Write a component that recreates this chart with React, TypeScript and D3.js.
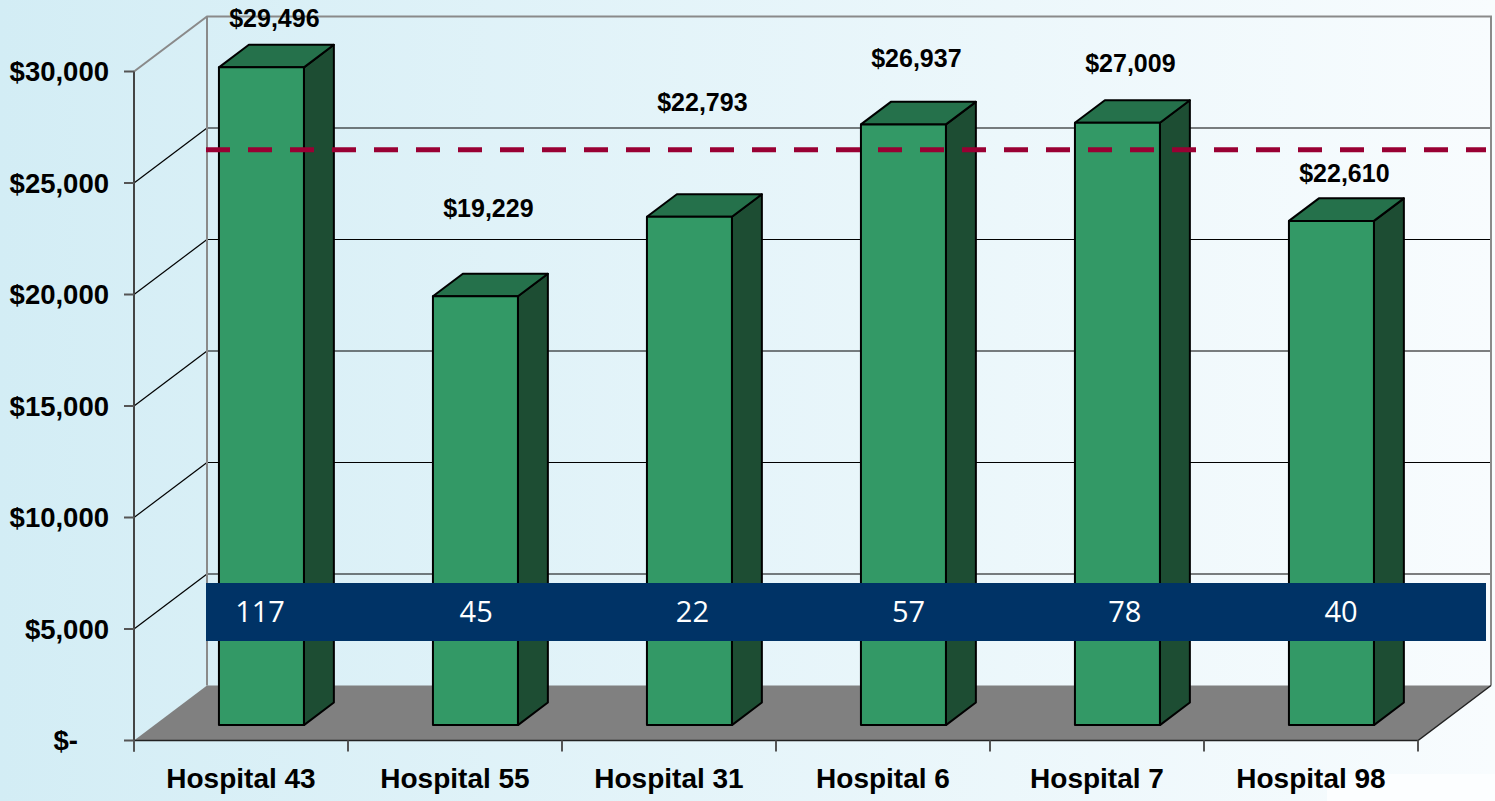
import React from "react";
import * as d3 from "d3";

// ---- data ----
const categories = ["Hospital 43", "Hospital 55", "Hospital 31", "Hospital 6", "Hospital 7", "Hospital 98"];
const costs = [29496, 19229, 22793, 26937, 27009, 22610];
const counts = [117, 45, 22, 57, 78, 40];
const yTicks = [0, 5000, 10000, 15000, 20000, 25000, 30000];
const yTickLabels = ["$-", "$5,000", "$10,000", "$15,000", "$20,000", "$25,000", "$30,000"];
const benchmark = 25800;
// label lift above bar tops (layout, px)
const labelLift = [49, 88, 115, 66, 60, 48];

// ---- layout ----
const W = 1495, H = 801;
const X0 = 134, X1 = 1418, Y0 = 740.5;
const DX = 73, DY = -55;
const PLOT_H = 669;
const F0 = 0.28, F1 = 0.69;
const BAR_FRAC = 85 / 214;
const BAND_LEFT = X0 + DX - 1, BAND_RIGHT = 1486;
const BAND_TOP = 583, BAND_BOTTOM = 641;

const fmt = (v: number) => "$" + d3.format(",")(v);

export default function App() {
  const x = d3.scaleBand<string>().domain(categories).range([X0, X1]).paddingInner(0).paddingOuter(0);
  const h = d3.scaleLinear().domain([0, 30000]).range([0, PLOT_H]);
  const countX = d3.scalePoint<string>().domain(categories).range([260, 1341]);
  const bw = x.bandwidth();
  const barW = bw * BAR_FRAC;
  const pt = (xf: number, v: number, f: number): [number, number] => [xf + f * DX, Y0 - h(v) + f * DY];
  const poly = (pts: [number, number][]) => pts.map((p) => p.join(",")).join(" ");
  const line = d3.line();

  const bench = pt(0, benchmark, F0)[1];

  return (
    <svg width={W} height={H} style={{ position: "absolute", left: 0, top: 0, display: "block" }}
      fontFamily="'Liberation Sans', Arial, sans-serif">
      <defs>
        <linearGradient id="bg" x1="0" x2="1" y1="0" y2="0">
          <stop offset="0" stopColor="#d3edf5" />
          <stop offset="1" stopColor="#f8fcfe" />
        </linearGradient>
      </defs>
      <rect x={0} y={0} width={W} height={H} fill="url(#bg)" />
      <rect x={1327} y={774} width={W - 1327} height={H - 774} fill="#fcfeff" />

      {/* back wall gridlines */}
      {yTicks.slice(1, -1).map((t) => {
        const [bx, by] = pt(X0, t, 1);
        const [ex] = pt(X1, t, 1);
        const [fx, fy] = pt(X0, t, 0);
        return (
          <g key={t}>
            <line x1={bx} y1={by} x2={ex} y2={by} stroke="#000" strokeWidth={1.2} />
            <line x1={fx} y1={fy} x2={bx} y2={by} stroke="#000" strokeWidth={1.2} />
          </g>
        );
      })}
      {/* walls edges */}
      {(() => {
        const top = 30000;
        const a = pt(X0, top, 0), b = pt(X0, top, 1), c = pt(X1, top, 1), d = pt(X1, 0, 1), e = pt(X0, 0, 1);
        return (
          <g fill="none" stroke="#8a8a8a" strokeWidth={2}>
            <path d={line([a, b, c, d]) || ""} />
            <path d={line([b, e]) || ""} />
          </g>
        );
      })()}
      {/* floor */}
      <polygon points={poly([pt(X0, 0, 0), pt(X0, 0, 1), pt(X1, 0, 1), pt(X1, 0, 0)])} fill="#808080" />
      <path d={line([pt(X0, 0, 0), pt(X1, 0, 0), pt(X1, 0, 1)]) || ""} fill="none" stroke="#222" strokeWidth={1.5} />

      {/* y axis */}
      <line x1={X0} y1={pt(X0, 30000, 0)[1]} x2={X0} y2={Y0 + 11} stroke="#444" strokeWidth={2} />
      {yTicks.map((t, i) => {
        const y = pt(X0, t, 0)[1];
        return (
          <g key={t}>
            <line x1={X0 - 10} y1={y} x2={X0} y2={y} stroke="#555" strokeWidth={2} />
            <text x={t === 0 ? 78 : 109} y={y} dy="0.36em" textAnchor="end" fontSize={27.5} fontWeight="bold" fill="#000">
              {yTickLabels[i]}
            </text>
          </g>
        );
      })}
      {/* x axis ticks */}
      {categories.concat(["end"]).map((c, i) => {
        const xx = X0 + i * bw;
        return <line key={c} x1={xx} y1={Y0} x2={xx} y2={Y0 + 11} stroke="#555" strokeWidth={2} />;
      })}
      {categories.map((c) => (
        <text key={c} x={(x(c) as number) + bw / 2} y={788} textAnchor="middle" fontSize={28} fontWeight="bold" fill="#000">
          {c}
        </text>
      ))}

      {/* bars */}
      {categories.map((c, i) => {
        const v = costs[i];
        const xl = (x(c) as number) + (bw - barW) / 2;
        const xr = xl + barW;
        const front = [pt(xl, 0, F0), pt(xr, 0, F0), pt(xr, v, F0), pt(xl, v, F0)];
        const top = [pt(xl, v, F0), pt(xr, v, F0), pt(xr, v, F1), pt(xl, v, F1)];
        const side = [pt(xr, 0, F0), pt(xr, 0, F1), pt(xr, v, F1), pt(xr, v, F0)];
        return (
          <g key={c} stroke="#000" strokeWidth={2} strokeLinejoin="round">
            <polygon points={poly(side)} fill="#1d4d33" />
            <polygon points={poly(top)} fill="#25714b" />
            <polygon points={poly(front)} fill="#339966" />
          </g>
        );
      })}

      {/* benchmark dashed line */}
      <line x1={BAND_LEFT} y1={bench} x2={BAND_RIGHT} y2={bench} stroke="#990033" strokeWidth={5} strokeDasharray="24 18" />

      {/* counts band */}
      <rect x={BAND_LEFT} y={BAND_TOP} width={BAND_RIGHT - BAND_LEFT} height={BAND_BOTTOM - BAND_TOP} fill="#003366" />
      {categories.map((c, i) => (
        <text key={c} x={countX(c)} y={(BAND_TOP + BAND_BOTTOM) / 2} dy="0.36em" textAnchor="middle"
          fontFamily="'Open Sans', sans-serif" fontSize={29} fill="#fff">
          {counts[i]}
        </text>
      ))}

      {/* value labels */}
      {categories.map((c, i) => {
        const v = costs[i];
        const cx = (x(c) as number) + bw / 2 + ((F0 + F1) / 2) * DX - 2;
        const ty = pt(0, v, F0)[1] - labelLift[i];
        return (
          <text key={c} x={cx} y={ty} dy="0.36em" textAnchor="middle" fontSize={25} fontWeight="bold" fill="#000">
            {fmt(v)}
          </text>
        );
      })}
    </svg>
  );
}
